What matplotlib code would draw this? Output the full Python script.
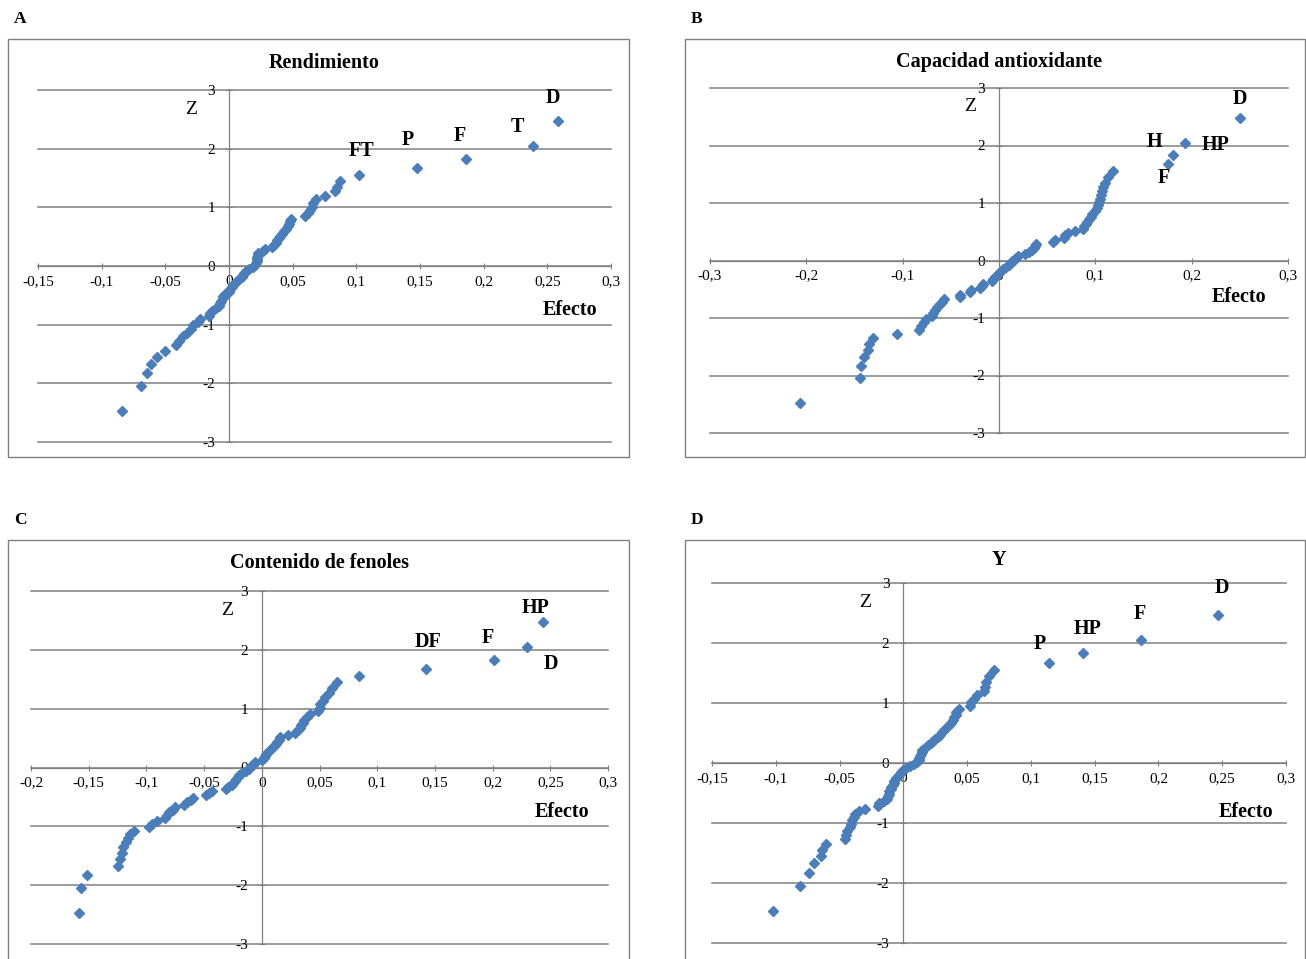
import matplotlib
matplotlib.use("Agg")
import matplotlib.pyplot as plt
from matplotlib.patches import Rectangle
from matplotlib.ticker import MultipleLocator, FuncFormatter

plt.rcParams['font.family'] = ['Liberation Serif', 'DejaVu Serif']

# normal scores (Z) shared by the four normal probability plots
z_scores = [-2.47, -2.05, -1.83, -1.67, -1.55, -1.445, -1.354, -1.274, -1.201, -1.134,
            -1.072, -1.014, -0.958, -0.906, -0.856, -0.808, -0.762, -0.717, -0.674, -0.632,
            -0.592, -0.552, -0.512, -0.474, -0.437, -0.400, -0.364, -0.328, -0.292, -0.257,
            -0.222, -0.188, -0.153, -0.119, -0.085, -0.051, -0.017,
            0.017, 0.051, 0.085, 0.119, 0.153, 0.188, 0.222, 0.257, 0.292, 0.328,
            0.364, 0.400, 0.437, 0.474, 0.512, 0.552, 0.592, 0.632, 0.674, 0.717,
            0.762, 0.808, 0.856, 0.906, 0.958, 1.014, 1.072, 1.134, 1.201, 1.274,
            1.354, 1.445, 1.55, 1.67, 1.83, 2.05, 2.47]

# ordered effects, one list per response
efecto_rend = [-0.084, -0.069, -0.0645, -0.061, -0.0566, -0.050, -0.042, -0.039, -0.036, -0.033,
               -0.030, -0.028, -0.024, -0.023, -0.016, -0.015, -0.013, -0.010, -0.008, -0.007,
               -0.006, -0.005, -0.0045, -0.003, 0.000, 0.001, 0.002, 0.003, 0.005, 0.0066,
               0.008, 0.010, 0.011, 0.012, 0.013, 0.016, 0.019,
               0.0205, 0.021, 0.022, 0.022, 0.022, 0.0225, 0.023, 0.027, 0.028, 0.034,
               0.035, 0.037, 0.038, 0.039, 0.040, 0.042, 0.043, 0.045, 0.046, 0.047,
               0.048, 0.049, 0.060, 0.062, 0.064, 0.065, 0.066, 0.068, 0.075, 0.083,
               0.085, 0.087, 0.102, 0.148, 0.186, 0.239, 0.258]

efecto_cap = [-0.207, -0.144, -0.1435, -0.140, -0.136, -0.135, -0.131, -0.106, -0.083, -0.081,
              -0.078, -0.076, -0.070, -0.068, -0.066, -0.064, -0.061, -0.059, -0.057, -0.041,
              -0.040, -0.030, -0.029, -0.020, -0.018, -0.017, -0.007, -0.006, -0.004, -0.002,
              0.000, 0.002, 0.004, 0.007, 0.010, 0.012, 0.014,
              0.016, 0.018, 0.020, 0.027, 0.031, 0.034, 0.036, 0.037, 0.038, 0.056,
              0.058, 0.067, 0.069, 0.072, 0.079, 0.087, 0.088, 0.090, 0.091, 0.093,
              0.095, 0.097, 0.100, 0.102, 0.103, 0.104, 0.105, 0.106, 0.107, 0.108,
              0.110, 0.113, 0.118, 0.175, 0.181, 0.193, 0.250]

efecto_fen = [-0.158, -0.157, -0.1515, -0.125, -0.123, -0.121, -0.120, -0.118, -0.116, -0.114,
              -0.1105, -0.098, -0.095, -0.091, -0.084, -0.082, -0.080, -0.077, -0.0755, -0.067,
              -0.065, -0.061, -0.060, -0.048, -0.046, -0.043, -0.031, -0.029, -0.026, -0.025,
              -0.023, -0.022, -0.021, -0.020, -0.017, -0.014, -0.011,
              -0.009, -0.007, -0.006, 0.000, 0.0015, 0.003, 0.004, 0.005, 0.007, 0.009,
              0.011, 0.012, 0.013, 0.015, 0.016, 0.023, 0.029, 0.031, 0.033, 0.034,
              0.036, 0.037, 0.039, 0.042, 0.049, 0.050, 0.050, 0.053, 0.055, 0.058,
              0.061, 0.065, 0.0845, 0.142, 0.201, 0.230, 0.2435]

efecto_y = [-0.102, -0.081, -0.074, -0.070, -0.0645, -0.064, -0.061, -0.046, -0.045, -0.044,
            -0.042, -0.041, -0.040, -0.039, -0.038, -0.035, -0.030, -0.020, -0.019, -0.015,
            -0.013, -0.012, -0.0115, -0.011, -0.010, -0.0097, -0.008, -0.0075, -0.007, -0.0055,
            -0.0044, -0.003, -0.002, 0.000, 0.002, 0.005, 0.008,
            0.011, 0.012, 0.0125, 0.013, 0.014, 0.0145, 0.015, 0.017, 0.019, 0.022,
            0.023, 0.025, 0.027, 0.029, 0.030, 0.032, 0.034, 0.036, 0.037, 0.039,
            0.040, 0.041, 0.041, 0.044, 0.052, 0.053, 0.0555, 0.058, 0.0635, 0.064,
            0.065, 0.067, 0.071, 0.114, 0.141, 0.186, 0.2464]

# names of the significant effects (last points of each series)
nombres_rend = ["FT", "P", "F", "T", "D"]
nombres_cap = ["F", "H", "HP", "D"]
nombres_fen = ["DF", "F", "D", "HP"]
nombres_y = ["P", "HP", "F", "D"]

W, H = 1306, 959
GRAY = '#808080'
BLUE = '#4A7EBB'

fig = plt.figure(figsize=(W / 100, H / 100), dpi=100)


def coma(v, pos):
    s = '%g' % round(v, 3)
    return s.replace('.', ',')


def panel(box, area, letra, titulo, title_y, efecto, xmin, nombres, offsets, efecto_xy):
    bx0, by0, bx1, by1 = box
    fig.patches.append(Rectangle((bx0 / W, 1 - by1 / H), (bx1 - bx0) / W, (by1 - by0) / H,
                                 transform=fig.transFigure, fill=False,
                                 edgecolor=GRAY, lw=1.0))
    fig.text((bx0 + 12) / W, 1 - (by0 - 20) / H, letra, ha='center', va='center',
             fontsize=12.5, fontweight='bold')
    x0, y0, x1, y1 = area
    ax = fig.add_axes([x0 / W, 1 - y1 / H, (x1 - x0) / W, (y1 - y0) / H])
    ax.set_xlim(xmin, 0.3)
    ax.set_ylim(-3, 3)
    ax.patch.set_alpha(0)
    for s in ['top', 'right']:
        ax.spines[s].set_visible(False)
    ax.spines['left'].set_position(('data', 0))
    ax.spines['bottom'].set_position(('data', 0))
    for s in ['left', 'bottom']:
        ax.spines[s].set_color(GRAY)
        ax.spines[s].set_linewidth(0.9)
    ax.xaxis.set_major_locator(MultipleLocator(0.1 if xmin < -0.25 else 0.05))
    ax.yaxis.set_major_locator(MultipleLocator(1))
    ax.xaxis.set_major_formatter(FuncFormatter(coma))
    ax.yaxis.set_major_formatter(FuncFormatter(coma))
    # horizontal gridlines, drawn unclipped so the -3 and 3 lines stay whole
    for yv in range(-3, 4):
        ax.axhline(yv, color=GRAY, lw=1.1, clip_on=False, zorder=0.5)
    ax.tick_params(axis='x', direction='inout', length=5, color=GRAY, labelsize=11, pad=4)
    ax.tick_params(axis='y', direction='inout', length=4, color=GRAY, labelsize=11, pad=8)

    ax.plot(efecto, z_scores, linestyle='none', marker='D', markersize=5.4,
            color=BLUE, markeredgecolor=BLUE, clip_on=False, zorder=3)

    n = len(nombres)
    for k, (nombre, off) in enumerate(zip(nombres, offsets)):
        i = len(efecto) - n + k
        ax.annotate(nombre, (efecto[i], z_scores[i]), xytext=(off[0] * 0.72, off[1] * 0.72),
                    textcoords='offset points', ha='center', va='center',
                    fontsize=14.5, fontweight='bold')

    ax.text(-0.03, 2.67, 'Z', ha='center', va='center', fontsize=14)
    ax.text(efecto_xy[0], efecto_xy[1], 'Efecto', ha='center', va='center',
            fontsize=14.5, fontweight='bold')
    fig.text((x0 + x1) / 2 / W, 1 - title_y / H, titulo, ha='center', va='center',
             fontsize=14.5, fontweight='bold')


panel((8, 39, 629, 457), (38, 90, 611, 442), 'A', 'Rendimiento', 63,
      efecto_rend, -0.15, nombres_rend,
      [(3, 24), (-10, 28), (-6, 23), (-16, 19), (-5, 23)], (0.268, -0.75))
panel((685, 39, 1305, 457), (710, 88, 1288, 433), 'B', 'Capacidad antioxidante', 62,
      efecto_cap, -0.3, nombres_cap,
      [(-4, -14), (-19, 13), (31, -2), (0, 19)], (0.249, -0.64))
panel((8, 540, 629, 975), (31, 591, 608, 944), 'C', 'Contenido de fenoles', 563,
      efecto_fen, -0.2, nombres_fen,
      [(2, 27), (-6, 22), (24, -17), (-7, 14)], (0.260, -0.75))
panel((685, 540, 1305, 975), (712, 583, 1286, 943), 'D', 'Y', 560,
      efecto_y, -0.15, nombres_y,
      [(-9, 19), (4, 24), (-1, 26), (4, 27)], (0.269, -0.81))

fig.savefig('out.png', dpi=100)
